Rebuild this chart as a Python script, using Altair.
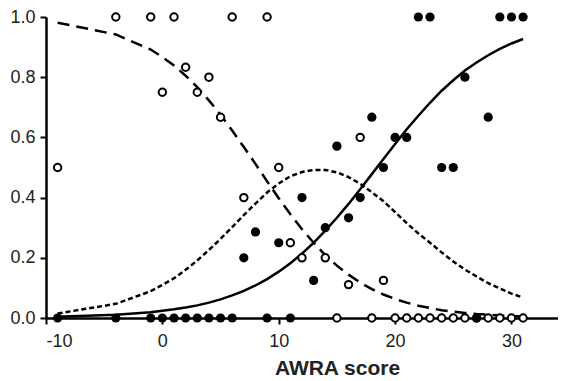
import altair as alt
import pandas as pd

# fitted curves, read at the observed scores
curve_x = [-9, -4, -1] + list(range(0, 32))
dashed_y = [0.981, 0.942, 0.892, 0.867, 0.839, 0.805, 0.767, 0.723, 0.675, 0.623,
            0.568, 0.512, 0.454, 0.398, 0.345, 0.295, 0.250, 0.209, 0.174, 0.144,
            0.118, 0.096, 0.078, 0.063, 0.051, 0.041, 0.033, 0.026, 0.021, 0.017,
            0.013, 0.011, 0.0085, 0.0067, 0.0054]
solid_y = [0.004, 0.011, 0.019, 0.024, 0.029, 0.035, 0.042, 0.051, 0.062, 0.075,
           0.090, 0.108, 0.129, 0.154, 0.182, 0.214, 0.250, 0.290, 0.333, 0.379,
           0.428, 0.478, 0.528, 0.578, 0.627, 0.672, 0.715, 0.755, 0.790, 0.822,
           0.849, 0.873, 0.894, 0.912, 0.927]
dotted_y = [0.015, 0.047, 0.089, 0.110, 0.132, 0.160, 0.191, 0.226, 0.263, 0.302,
            0.342, 0.380, 0.417, 0.447, 0.471, 0.485, 0.492, 0.492, 0.484, 0.468,
            0.446, 0.418, 0.388, 0.352, 0.315, 0.281, 0.250, 0.218, 0.188, 0.161,
            0.138, 0.116, 0.098, 0.081, 0.068]

# observed proportions
open_x = [-9, -4, -1, 0, 1, 2, 3, 4, 5, 6, 7, 9, 10, 11, 12, 14, 15, 16, 17, 18, 19,
          20, 21, 22, 23, 24, 25, 26, 27, 28, 29, 30, 31]
open_y = [0.5, 1, 1, 0.75, 1, 0.833, 0.75, 0.8, 0.667, 1, 0.4, 1, 0.5, 0.25, 0.2, 0.2,
          0, 0.111, 0.6, 0, 0.125, 0, 0, 0, 0, 0, 0, 0, 0, 0, 0, 0, 0]
filled_x = [-9, -4, -1, 0, 1, 2, 3, 4, 5, 6, 7, 8, 9, 10, 11, 12, 13, 14, 15, 16, 17,
            18, 19, 20, 21, 22, 23, 24, 25, 26, 27, 28, 29, 30, 31]
filled_y = [0, 0, 0, 0, 0, 0, 0, 0, 0, 0, 0.2, 0.286, 0, 0.25, 0, 0.4, 0.125, 0.3,
            0.571, 0.333, 0.4, 0.667, 0.5, 0.6, 0.6, 1, 1, 0.5, 0.5, 0.8, 0, 0.667,
            1, 1, 1]

curves = pd.DataFrame({"x": curve_x, "dashed": dashed_y, "solid": solid_y, "dotted": dotted_y})
opens = pd.DataFrame({"x": open_x, "y": open_y})
filleds = pd.DataFrame({"x": filled_x, "y": filled_y})

xscale = alt.Scale(domain=[-10, 34], nice=False, zero=False)
yscale = alt.Scale(domain=[0, 1], nice=False)
xenc = alt.X("x:Q", scale=xscale,
             axis=alt.Axis(values=[-10, 0, 10, 20, 30], title="AWRA score",
                           labelExpr="'' + datum.value",
                           titleX=291, titleY=56, titleBaseline="alphabetic",
                           titleAlign="center", titleAnchor="start"))

def yenc(field):
    return alt.Y(f"{field}:Q", scale=yscale,
                 axis=alt.Axis(values=[0, 0.2, 0.4, 0.6, 0.8, 1.0], format=".1f", title=None))

base = alt.Chart(curves)
dashed = base.mark_line(color="black", strokeWidth=2.5, strokeDash=[12, 7]).encode(x=xenc, y=yenc("dashed"))
solid = base.mark_line(color="black", strokeWidth=2.5).encode(x=xenc, y=yenc("solid"))
dotted = base.mark_line(color="black", strokeWidth=2.5, strokeDash=[5, 3]).encode(x=xenc, y=yenc("dotted"))

open_pts = alt.Chart(opens).mark_point(shape="circle", filled=False, fill="white", fillOpacity=1,
                                       stroke="black", strokeWidth=2, size=55, opacity=1).encode(x=xenc, y=yenc("y"))
filled_pts = alt.Chart(filleds).mark_circle(color="black", size=85, opacity=1).encode(x=xenc, y=yenc("y"))

chart = alt.layer(dashed, dotted, solid, open_pts, filled_pts).properties(
    width=512, height=301,
    autosize="none",
    padding={"left": 38, "top": 9, "right": 0, "bottom": 62},
).configure_view(stroke=None, clip=False).configure_axis(
    grid=False, domainColor="black", domainWidth=2.5, tickColor="black", tickWidth=2,
    tickSize=6, labelFont="Liberation Sans", labelFontSize=18, labelColor="#222",
    labelPadding=5, titleFont="Liberation Sans", titleFontSize=21, titleFontWeight="bold",
    titleColor="#222"
).configure_axisX(labelPadding=8)

chart.save("out.html", embed_options={"renderer": "svg", "actions": False})
